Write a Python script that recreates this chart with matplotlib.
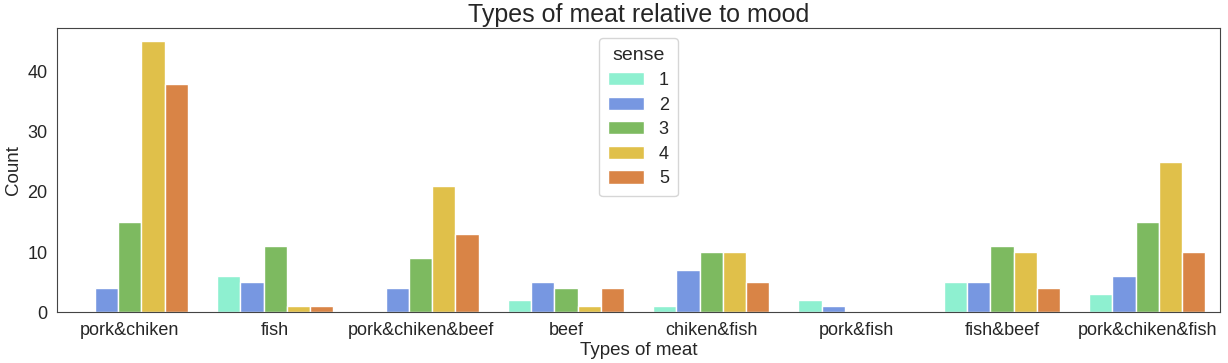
import numpy as np
import matplotlib
matplotlib.use("Agg")
import matplotlib.pyplot as plt
import seaborn as sns

sns.set_style("white")
plt.rcParams['font.family'] = ['Liberation Sans', 'DejaVu Sans']

categories = ["pork&chiken", "fish", "pork&chiken&beef", "beef", "chiken&fish",
              "pork&fish", "fish&beef", "pork&chiken&fish"]
sense_levels = ["1", "2", "3", "4", "5"]
sense1 = [0, 6, 0, 2, 1, 2, 5, 3]
sense2 = [4, 5, 4, 5, 7, 1, 5, 6]
sense3 = [15, 11, 9, 4, 10, 0, 11, 15]
sense4 = [45, 1, 21, 1, 10, 0, 10, 25]
sense5 = [38, 1, 13, 4, 5, 0, 4, 10]
colors = ["#8ef0d0", "#7797e1", "#7dba60", "#e0c04a", "#d98446"]

series = [sense1, sense2, sense3, sense4, sense5]

fig = plt.figure(figsize=(12.28, 3.63), dpi=100)
ax = fig.add_axes([0.0465, 0.14, 0.947, 0.783])
x = np.arange(len(categories))
w = 0.8 / len(series)
for i, (vals, c, lab) in enumerate(zip(series, colors, sense_levels)):
    ax.bar(x - 0.4 + w * (i + 0.5), vals, width=w, color=c, edgecolor="white",
           linewidth=1, label=lab)
ax.set_xlim(-0.5, len(categories) - 0.5)
ax.set_ylim(0, 45 * 1.05)
ax.set_xticks(x)
ax.set_xticklabels(categories, fontsize=13, color="#262626")
ax.set_yticks([0, 10, 20, 30, 40])
ax.tick_params(axis="y", labelsize=13, labelcolor="#262626")
ax.set_xlabel("Types of meat", fontsize=13.5, color="#262626", labelpad=2)
ax.set_ylabel("Count", fontsize=13.5, color="#262626")
ax.set_title("Types of meat relative to mood", fontsize=18, color="#262626", pad=4)
for s in ax.spines.values():
    s.set_color("#444444")
leg = ax.legend(title="sense", loc="upper center", fontsize=13, title_fontsize=14,
                handlelength=2.0, handleheight=0.75, labelspacing=0.42, borderpad=0.5,
                bbox_to_anchor=(0.5, 0.995))
fig.savefig("out.png", dpi=100)
